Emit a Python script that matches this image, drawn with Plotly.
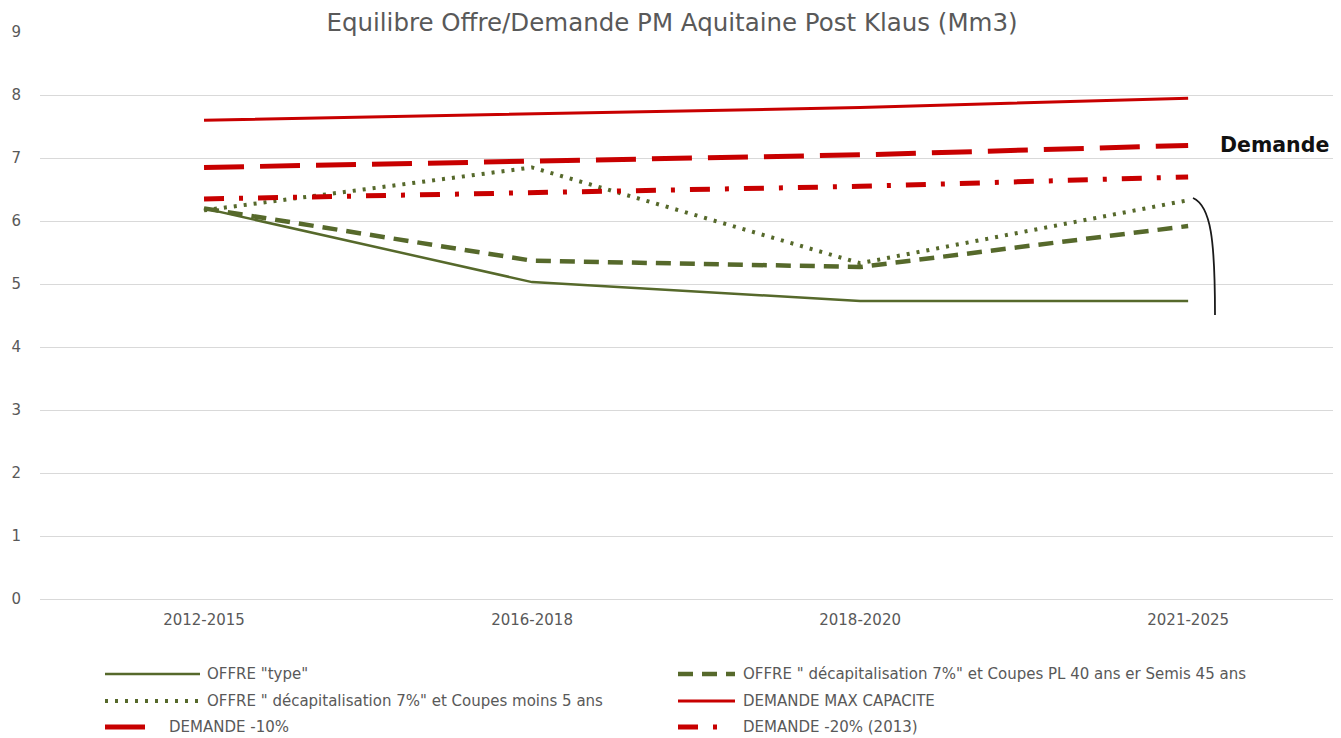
import plotly.graph_objects as go

categories = ["2012-2015", "2016-2018", "2018-2020", "2021-2025"]
offre_type = [6.2, 5.03, 4.73, 4.73]
offre_pl40 = [6.2, 5.37, 5.27, 5.92]
offre_moins5 = [6.17, 6.85, 5.33, 6.33]
demande_max = [7.6, 7.7, 7.8, 7.95]
demande_10 = [6.85, 6.95, 7.05, 7.2]
demande_20 = [6.35, 6.45, 6.55, 6.7]

names = [
    'OFFRE "type"',
    'OFFRE " décapitalisation 7%" et Coupes PL 40 ans er Semis 45 ans',
    'OFFRE " décapitalisation 7%" et Coupes moins 5 ans',
    'DEMANDE MAX CAPACITE',
    'DEMANDE -10%',
    'DEMANDE -20% (2013)',
]

GREEN = "#56692B"
RED = "#C80000"
GREY = "#595959"
FONT = "DejaVu Sans"

styles = [
    dict(color=GREEN, width=2.5, dash="solid"),
    dict(color=GREEN, width=4.5, dash="15px,9px"),
    dict(color=GREEN, width=4, dash="3px,7px"),
    dict(color=RED, width=3, dash="solid"),
    dict(color=RED, width=5, dash="40px,16px"),
    dict(color=RED, width=5, dash="20px,15px,4px,15px"),
]
series = [offre_type, offre_pl40, offre_moins5, demande_max, demande_10, demande_20]

OFF = 8  # page body margin
W, H = 1341 - OFF, 738 - OFF
L, R, T, B = 40 - OFF, 0, 32 - OFF, 738 - 599
PW, PH = W - L - R, H - T - B

def px(x):
    return (x - OFF - L) / PW

def py(y):
    return (H - B - (y - OFF)) / PH

fig = go.Figure()
for n, s, st in zip(names, series, styles):
    fig.add_trace(go.Scatter(x=categories, y=s, mode="lines", name=n,
                             line=st, showlegend=False, hoverinfo="x+y+name"))

shapes = []
annotations = []

# bracket curve
shapes.append(dict(type="path", xref="paper", yref="paper",
                   path=f"M {px(1193)},{py(198)} C {px(1211)},{py(206)} {px(1215)},{py(240)} {px(1215)},{py(315)}",
                   line=dict(color="#1a1a1a", width=1.8)))

annotations.append(dict(text="<b>Demande</b>", xref="paper", yref="paper",
                        x=px(1218), y=py(145), xanchor="left", yanchor="middle",
                        showarrow=False, font=dict(family=FONT, size=20.5, color="#111111")))

# manual legend
legend_pos = [
    (105, 200, 205, 674),
    (678, 735, 741, 674),
    (105, 200, 205, 701),
    (678, 735, 741, 701),
    (105, 200, 167, 727),
    (678, 735, 741, 727),
]
for (x0, x1, tx, ly), n, st in zip(legend_pos, names, styles):
    if n == 'DEMANDE -10%':
        x1 = 148
    if n == 'DEMANDE -20% (2013)':
        x1 = 722
    shapes.append(dict(type="line", xref="paper", yref="paper",
                       x0=px(x0), x1=px(x1), y0=py(ly), y1=py(ly),
                       line=dict(color=st["color"], width=st["width"], dash=st["dash"])))
    annotations.append(dict(text=n, xref="paper", yref="paper", x=px(tx), y=py(ly),
                            xanchor="left", yanchor="middle", showarrow=False,
                            font=dict(family=FONT, size=15, color=GREY)))

fig.update_layout(
    width=W, height=H,
    margin=dict(l=L, r=R, t=T, b=B),
    paper_bgcolor="white", plot_bgcolor="white",
    title=dict(text="Equilibre Offre/Demande PM Aquitaine Post Klaus (Mm3)",
               x=(672 - OFF) / W, xref="container", xanchor="center",
               y=1 - (22 - OFF) / H, yref="container", yanchor="middle",
               font=dict(family=FONT, size=24.5, color=GREY)),
    shapes=shapes,
    annotations=annotations,
    showlegend=False,
)
fig.update_xaxes(type="category", range=[-0.5, 3.466], showgrid=False, showline=False,
                 zeroline=False, ticks="", ticklabelstandoff=10,
                 tickfont=dict(family=FONT, size=15, color=GREY))
fig.update_yaxes(range=[0, 9], dtick=1, showgrid=True, gridcolor="#D9D9D9", gridwidth=1,
                 zeroline=True, zerolinecolor="#D9D9D9", zerolinewidth=1,
                 showline=False, ticks="", ticklabelstandoff=18,
                 tickfont=dict(family=FONT, size=15, color=GREY))

fig.write_html("out.html")
